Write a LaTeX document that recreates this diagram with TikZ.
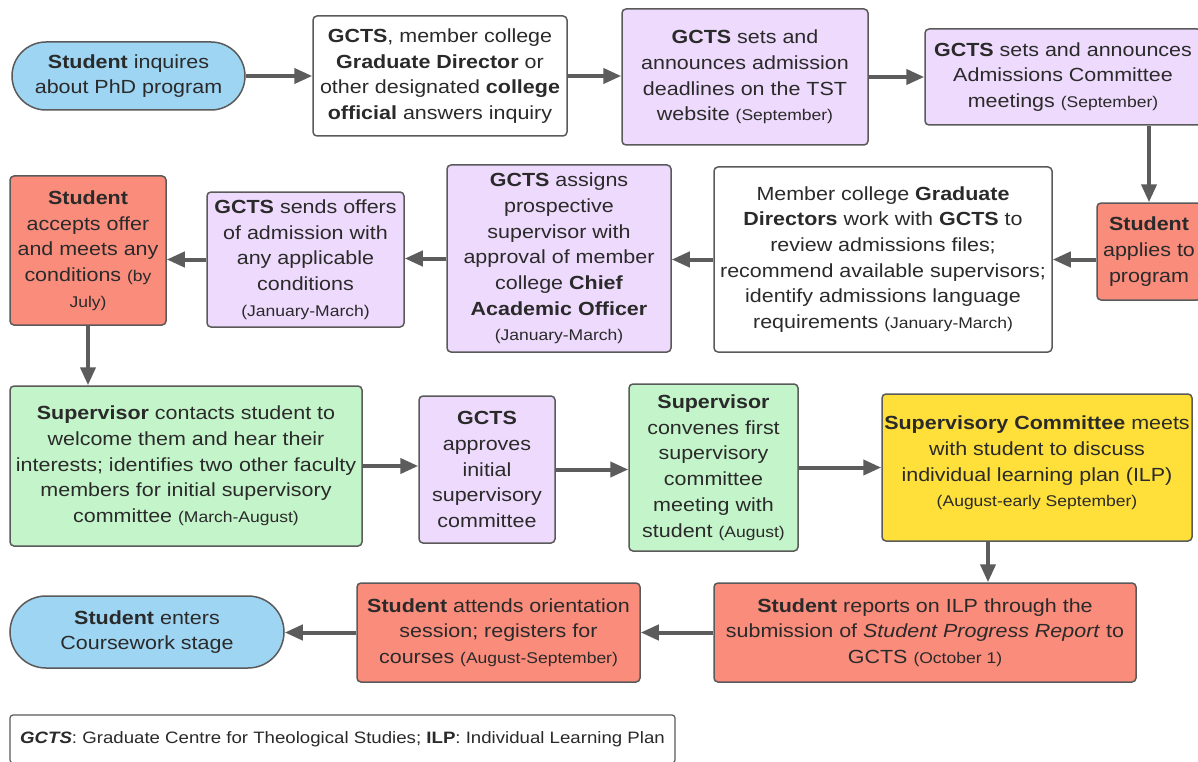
\documentclass[tikz,border=0pt]{standalone}
\usepackage{fontspec}
\setmainfont[FakeStretch=1.13]{Liberation Sans}
\usetikzlibrary{arrows.meta}
\definecolor{cblue}{HTML}{9ED5F3}
\definecolor{cpurple}{HTML}{EEDAFC}
\definecolor{cred}{HTML}{FA8C7C}
\definecolor{cgreen}{HTML}{C4F4C9}
\definecolor{cyellow}{HTML}{FFE03A}
\definecolor{cborder}{HTML}{5A5A5A}
\definecolor{carrow}{HTML}{5C5C5C}
\definecolor{ctext}{HTML}{2A2A2A}
\newcommand\smalldate[1]{{\fontsize{15.5}{25.7}\selectfont #1}}
\tikzset{
  box/.style={draw=cborder, line width=1.5pt, rounded corners=4pt, align=center,
    inner sep=0pt, text=ctext, font=\fontsize{19}{25.7}\selectfont},
  white/.style={box, fill=white},
  purple/.style={box, fill=cpurple},
  red/.style={box, fill=cred},
  green/.style={box, fill=cgreen},
  yellow/.style={box, fill=cyellow},
  stadium/.style={box, fill=cblue},
  arr/.style={draw=carrow, line width=4pt, -{Triangle[length=18pt,width=15pt]}},
}
\begin{document}
\begin{tikzpicture}[x=1pt,y=-1pt]
\clip (0,0) rectangle (1198,762);
\fill[white] (-5,-5) rectangle (1203,767);

% row 1
\node[stadium, rounded corners=34pt, minimum width=233pt, minimum height=68pt] (n1) at (128.5,76)
  {\textbf{Student} inquires\\about PhD program};
\node[white, minimum width=254pt, minimum height=120pt] (n2) at (440,76)
  {\textbf{GCTS}, member college\\\textbf{Graduate Director} or\\other designated \textbf{college}\\\textbf{official} answers inquiry};
\node[purple, minimum width=246pt, minimum height=136pt] (n3) at (745,77)
  {\textbf{GCTS} sets and\\announces admission\\deadlines on the TST\\website \smalldate{(September)}};
\node[purple, minimum width=276pt, minimum height=96pt] (n4) at (1063,77)
  {\textbf{GCTS} sets and announces\\Admissions Committee\\meetings \smalldate{(September)}};

% row 2
\node[red, minimum width=104pt, minimum height=97pt] (n5) at (1149,251.5)
  {\textbf{Student}\\applies to\\program};
\node[white, minimum width=338pt, minimum height=185pt] (n6) at (883,259.5)
  {Member college \textbf{Graduate}\\\textbf{Directors} work with \textbf{GCTS} to\\review admissions files;\\recommend available supervisors;\\identify admissions language\\requirements \smalldate{(January-March)}};
\node[purple, minimum width=224pt, minimum height=187pt] (n7) at (559,258.5)
  {\textbf{GCTS} assigns\\prospective\\supervisor with\\approval of member\\college \textbf{Chief}\\\textbf{Academic Officer}\\\smalldate{(January-March)}};
\node[purple, minimum width=197pt, minimum height=135pt] (n8) at (305.5,259.5)
  {\textbf{GCTS} sends offers\\of admission with\\any applicable\\conditions\\\smalldate{(January-March)}};
\node[red, minimum width=156pt, minimum height=149pt] (n9) at (88,250.5)
  {\textbf{Student}\\accepts offer\\and meets any\\conditions \smalldate{(by}\\\smalldate{July)}};

% row 3
\node[green, minimum width=352pt, minimum height=160pt] (n10) at (186,466)
  {\textbf{Supervisor} contacts student to\\welcome them and hear their\\interests; identifies two other faculty\\members for initial supervisory\\committee \smalldate{(March-August)}};
\node[purple, minimum width=136pt, minimum height=147pt] (n11) at (487,469.5)
  {\textbf{GCTS}\\approves\\initial\\supervisory\\committee};
\node[green, minimum width=169pt, minimum height=167pt] (n12) at (713.5,467.5)
  {\textbf{Supervisor}\\convenes first\\supervisory\\committee\\meeting with\\student \smalldate{(August)}};
\node[yellow, minimum width=310pt, minimum height=147pt, text depth=12pt] (n13) at (1037,467.5)
  {\textbf{Supervisory Committee} meets\\with student to discuss\\individual learning plan (ILP)\\\smalldate{(August-early September)}};

% row 4
\node[red, minimum width=422pt, minimum height=99pt] (n14) at (925,632.5)
  {\textbf{Student} reports on ILP through the\\submission of \textit{Student Progress Report} to\\GCTS \smalldate{(October 1)}};
\node[red, minimum width=283pt, minimum height=99pt] (n15) at (498.5,632.5)
  {\textbf{Student} attends orientation\\session; registers for\\courses \smalldate{(August-September)}};
\node[stadium, rounded corners=36pt, minimum width=274pt, minimum height=72pt] (n16) at (147,632)
  {\textbf{Student} enters\\Coursework stage};

% legend
\node[box, rounded corners=3pt, line width=1.2pt, fill=white, minimum width=665pt, minimum height=48pt,
  font=\fontsize{16.5}{22}\selectfont] (leg) at (342.5,739)
  {\textbf{\textit{GCTS}}: Graduate Centre for Theological Studies; \textbf{ILP}: Individual Learning Plan};

% connectors
\draw[arr] (n1.east) -- (n1.east -| n2.west);
\draw[arr] (n2.east) -- (n2.east -| n3.west);
\draw[arr] (n3.east) -- (n3.east -| n4.west);
\draw[arr] (n4.south -| n5.north) -- (n5.north);
\draw[arr] (n5.west |- n6.east) -- (n6.east);
\draw[arr] (n6.west) -- (n6.west -| n7.east);
\draw[arr] (n7.west) -- (n7.west -| n8.east);
\draw[arr] (n8.west) -- (n8.west -| n9.east);
\draw[arr] (n9.south) -- (n9.south |- n10.north);
\draw[arr] (n10.east) -- (n10.east -| n11.west);
\draw[arr] (n11.east) -- (n11.east -| n12.west);
\draw[arr] (n12.east) -- (n12.east -| n13.west);
\draw[arr] ([xshift=-49pt]n13.south) -- ([xshift=-49pt]n13.south |- n14.north);
\draw[arr] (n14.west) -- (n14.west -| n15.east);
\draw[arr] (n15.west) -- (n15.west -| n16.east);
\end{tikzpicture}
\end{document}
